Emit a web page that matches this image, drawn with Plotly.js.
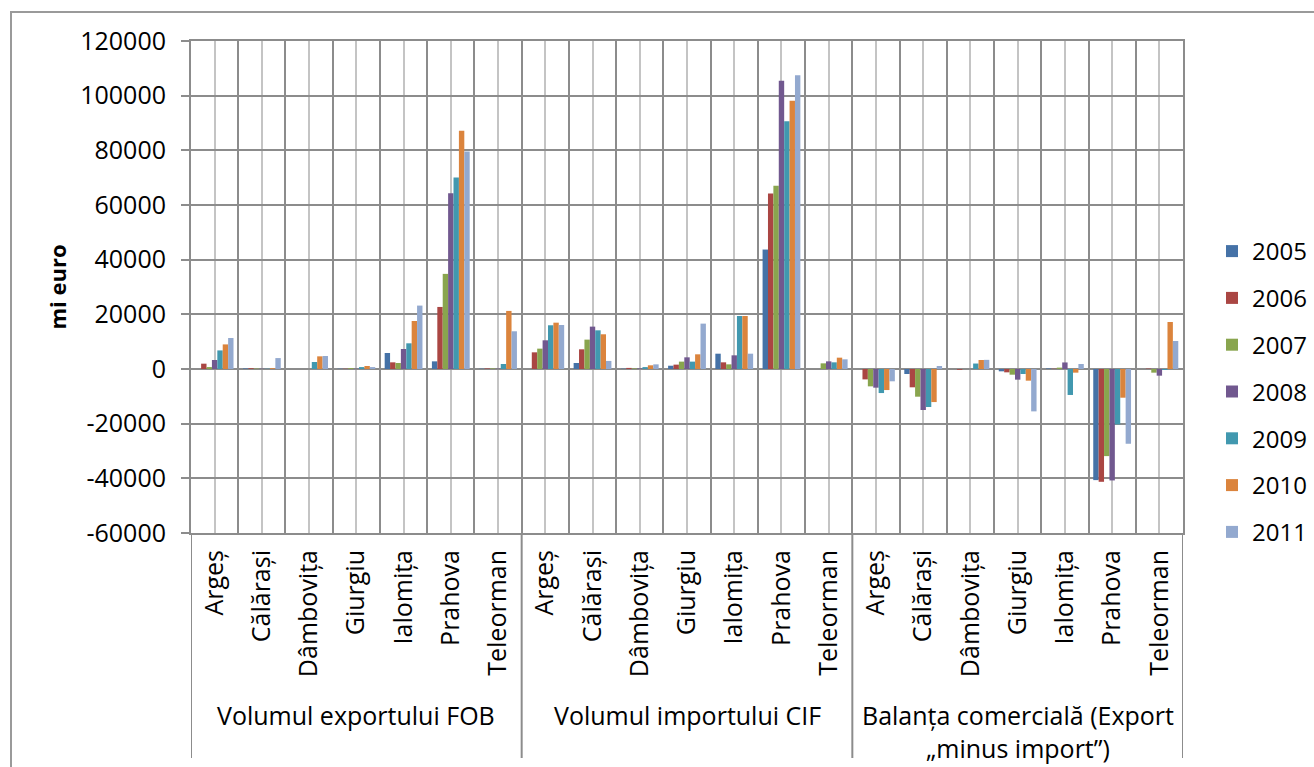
<!DOCTYPE html>
<html>
<head>
<meta charset="utf-8">
<script src="https://cdn.plot.ly/plotly-3.0.1.min.js"></script>
<style>
  html, body { margin: 0; padding: 0; background: #fff; overflow: hidden; }
  #chart { width: 1314px; height: 767px; }
  #frame { position: absolute; left: 10px; top: 11px; width: 1400px; height: 900px;
           border: 2px solid #9a9a9a; pointer-events: none; }
</style>
</head>
<body>
<div id="chart"></div>
<div id="frame"></div>
<script>
// ---- data ----
const regions = ['Argeș', 'Călărași', 'Dâmbovița', 'Giurgiu', 'Ialomița', 'Prahova', 'Teleorman'];
const groups = ['Volumul exportului FOB', 'Volumul importului CIF', 'Balanța comercială (Export<br>„minus import”)'];
const years = ['2005', '2006', '2007', '2008', '2009', '2010', '2011'];
const yTickVals = [-60000, -40000, -20000, 0, 20000, 40000, 60000, 80000, 100000, 120000];
const yTickText = ['-60000', '-40000', '-20000', '0', '20000', '40000', '60000', '80000', '100000', '120000'];

// each array: 7 export values, 7 import values, 7 balance values (regions order)
const v2005 = [0, 200, 0, 100, 5850, 2800, 100,   0, 2200, 100, 1200, 5600, 43700, 0,   0, -1830, 0, -850, 200, -40650, 0];
const v2006 = [1950, 300, 0, 100, 2440, 22700, 200,   6100, 7200, 400, 1600, 2440, 64200, 0,   -3800, -6700, -300, -1220, 100, -41270, 150];
const v2007 = [700, 150, 0, 350, 2200, 34800, 200,   7450, 10750, 200, 2700, 1700, 67000, 2070,   -6350, -10130, 0, -2080, 500, -31870, -1340];
const v2008 = [3300, 100, 0, 100, 7320, 64300, 100,   10500, 15500, 200, 4270, 5000, 105450, 2800,   -6830, -15000, 0, -3900, 2400, -40770, -2440];
const v2009 = [6800, 100, 2560, 700, 9400, 70050, 1830,   16000, 14150, 700, 2700, 19400, 90600, 2440,   -8800, -13900, 2000, -1830, -9500, -20270, -370];
const v2010 = [9000, 300, 4630, 1100, 17570, 87150, 21250,   16950, 12700, 1350, 5370, 19400, 98150, 4150,   -7700, -12100, 3300, -4270, -1340, -10500, 17200];
const v2011 = [11350, 4000, 4750, 700, 23200, 79600, 13800,   16100, 2950, 1700, 16600, 5600, 107500, 3540,   -4500, 1100, 3350, -15500, 1830, -27350, 10250];

const seriesValues = [v2005, v2006, v2007, v2008, v2009, v2010, v2011];
const colors = ['#4572A7', '#AA4643', '#89A54E', '#71588F', '#4198AF', '#DB843D', '#93A9CF'];

// ---- build ----
const xIdx = [];
const tickText = [];
groups.forEach((g, gi) => regions.forEach((r, ri) => {
  xIdx.push(gi * regions.length + ri);
  tickText.push(r);
}));

const traces = years.map((yr, i) => ({
  type: 'bar',
  name: yr,
  legendgroup: yr,
  x: xIdx,
  y: seriesValues[i],
  marker: { color: colors[i] },
  hoverinfo: 'y+name'
}));

const gridDark = '#8c8c8c';
const gridLight = '#c4c4c4';
const plotH = 767 - 41 - 234;
const plotW = 1314 - 191 - 131;

const shapes = [];
for (let gi = 0; gi <= groups.length; gi++) {
  shapes.push({
    type: 'line', xref: 'x', yref: 'paper',
    x0: gi * regions.length - 0.5, x1: gi * regions.length - 0.5,
    y0: 0, y1: -(758 - 533) / plotH,
    line: { color: gridDark, width: 2 }
  });
}

const annotations = groups.map((g, gi) => ({
  text: g,
  xref: 'x', yref: 'paper',
  x: gi * regions.length + (regions.length - 1) / 2,
  y: 0, yanchor: 'top', yshift: -163,
  showarrow: false,
  font: { size: 25, color: '#000' },
  align: 'center'
}));

const layout = {
  width: 1314, height: 767,
  margin: { l: 191, r: 131, t: 41, b: 234, autoexpand: false },
  paper_bgcolor: '#fff', plot_bgcolor: '#fff',
  font: { family: 'Open Sans, Noto Sans, sans-serif', size: 25, color: '#000' },
  barmode: 'group', bargap: 0.2, bargroupgap: 0,
  showlegend: true,
  legend: {
    x: (1212 - 191) / plotW, xanchor: 'left',
    y: (533 - 229) / plotH, yanchor: 'top',
    font: { size: 24 },
    traceorder: 'grouped',
    tracegroupgap: 12.6,
    bgcolor: 'rgba(0,0,0,0)'
  },
  xaxis: {
    range: [-0.5, xIdx.length - 0.5],
    tickmode: 'array', tickvals: xIdx, ticktext: tickText,
    tickangle: -90, ticks: '', ticklabelstandoff: 5,
    tickfont: { size: 25 },
    showgrid: true, gridcolor: gridLight, gridwidth: 2,
    minor: { tickmode: 'linear', tick0: -0.5, dtick: 1, showgrid: true, gridcolor: gridDark, gridwidth: 2, ticks: '' },
    showline: true, mirror: true, linecolor: gridDark, linewidth: 2,
    zeroline: false, fixedrange: true
  },
  yaxis: {
    range: [-60000, 120000],
    tickmode: 'array', tickvals: yTickVals, ticktext: yTickText,
    tickfont: { size: 25 },
    showgrid: true, gridcolor: gridDark, gridwidth: 2,
    zeroline: true, zerolinecolor: gridDark, zerolinewidth: 2,
    ticks: 'outside', ticklen: 8, tickwidth: 2, tickcolor: gridDark,
    ticklabelstandoff: 10,
    showline: true, mirror: true, linecolor: gridDark, linewidth: 2,
    title: { text: '<b>mi euro</b>', font: { size: 22 }, standoff: 8 },
    automargin: false, fixedrange: true
  },
  shapes: shapes,
  annotations: annotations
};

Plotly.newPlot('chart', traces, layout, { displayModeBar: false, staticPlot: true });
</script>
</body>
</html>
